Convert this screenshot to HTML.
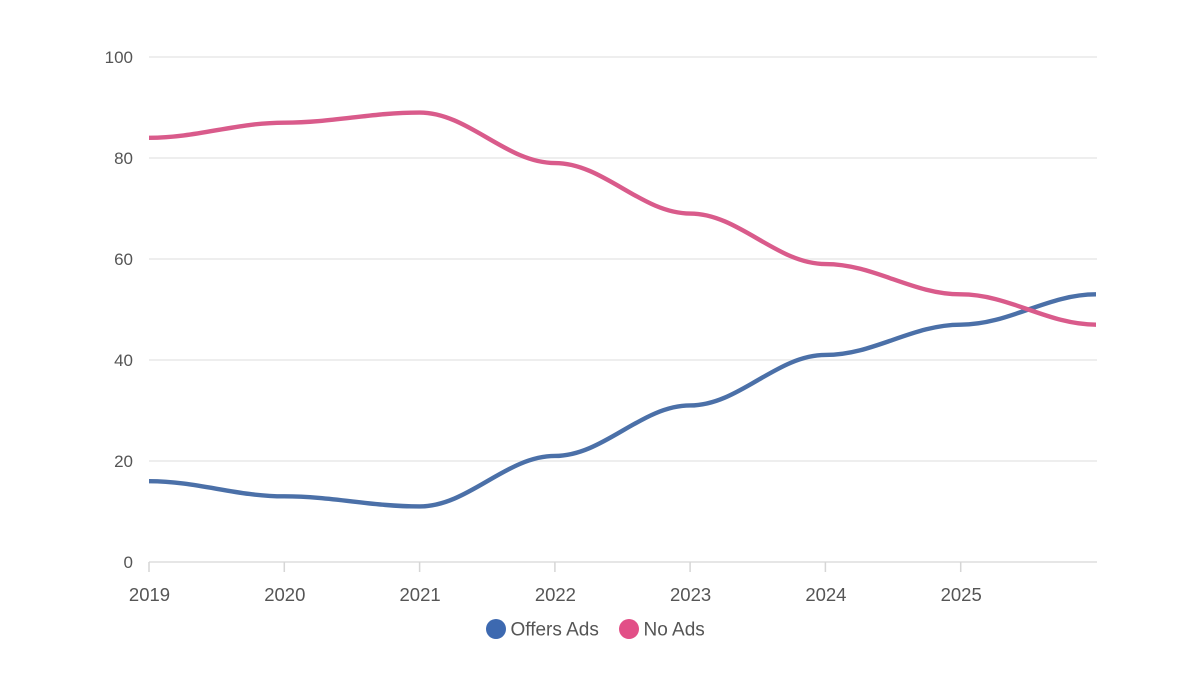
<!DOCTYPE html>
<html>
<head>
<meta charset="utf-8">
<style>
  html, body { margin: 0; padding: 0; background: #ffffff; }
  body { width: 1200px; height: 675px; overflow: hidden; }
  svg { display: block; font-family: "Liberation Sans", Arial, sans-serif; }
</style>
</head>
<body>
<svg width="1200" height="675" viewBox="0 0 1200 675" xmlns="http://www.w3.org/2000/svg">
  <rect width="1200" height="675" fill="#ffffff"/>
  <!-- gridlines -->
  <g stroke="#e8e8e8" stroke-width="1.5">
    <line x1="149" y1="57" x2="1097" y2="57"/>
    <line x1="149" y1="158" x2="1097" y2="158"/>
    <line x1="149" y1="259" x2="1097" y2="259"/>
    <line x1="149" y1="360" x2="1097" y2="360"/>
    <line x1="149" y1="461" x2="1097" y2="461"/>
  </g>
  <!-- x axis -->
  <line x1="149" y1="562" x2="1097" y2="562" stroke="#dddddd" stroke-width="1.5"/>
  <g stroke="#d6d6d6" stroke-width="1.5">
    <line x1="149" y1="562" x2="149" y2="572"/>
    <line x1="284.3" y1="562" x2="284.3" y2="572"/>
    <line x1="419.6" y1="562" x2="419.6" y2="572"/>
    <line x1="554.9" y1="562" x2="554.9" y2="572"/>
    <line x1="690.1" y1="562" x2="690.1" y2="572"/>
    <line x1="825.4" y1="562" x2="825.4" y2="572"/>
    <line x1="960.7" y1="562" x2="960.7" y2="572"/>
  </g>
  <!-- y labels -->
  <g fill="#555555" font-size="17" text-anchor="end">
    <text x="133" y="63">100</text>
    <text x="133" y="164">80</text>
    <text x="133" y="265">60</text>
    <text x="133" y="366">40</text>
    <text x="133" y="467">20</text>
    <text x="133" y="568">0</text>
  </g>
  <!-- x labels -->
  <g fill="#555555" font-size="18.5" text-anchor="middle">
    <text x="149.5" y="601">2019</text>
    <text x="284.8" y="601">2020</text>
    <text x="420.1" y="601">2021</text>
    <text x="555.4" y="601">2022</text>
    <text x="690.6" y="601">2023</text>
    <text x="825.9" y="601">2024</text>
    <text x="961.2" y="601">2025</text>
  </g>
  <!-- series -->
  <path fill="none" stroke="#4b70a8" stroke-width="4.4" stroke-linecap="butt" stroke-linejoin="round"
    d="M149,481.2 C197.7,481.2 235.6,496.35 284.3,496.35 C333,496.35 370.9,506.45 419.6,506.45 C468.3,506.45 506.2,455.95 554.9,455.95 C603.6,455.95 641.4,405.45 690.1,405.45 C738.8,405.45 776.7,354.95 825.4,354.95 C874.1,354.95 912,324.65 960.7,324.65 C1009.4,324.65 1047.3,294.35 1096,294.35"/>
  <path fill="none" stroke="#d95b8b" stroke-width="4.4" stroke-linecap="butt" stroke-linejoin="round"
    d="M149,137.8 C197.7,137.8 235.6,122.65 284.3,122.65 C333,122.65 370.9,112.55 419.6,112.55 C468.3,112.55 506.2,163.05 554.9,163.05 C603.6,163.05 641.4,213.55 690.1,213.55 C738.8,213.55 776.7,264.05 825.4,264.05 C874.1,264.05 912,294.35 960.7,294.35 C1009.4,294.35 1047.3,324.65 1096,324.65"/>
  <!-- legend -->
  <circle cx="496" cy="629" r="10" fill="#3d69b0"/>
  <text x="510.5" y="635.5" font-size="19" fill="#555555">Offers Ads</text>
  <circle cx="629" cy="629" r="10" fill="#e24f87"/>
  <text x="643.5" y="635.5" font-size="19" fill="#555555">No Ads</text>
</svg>
</body>
</html>
